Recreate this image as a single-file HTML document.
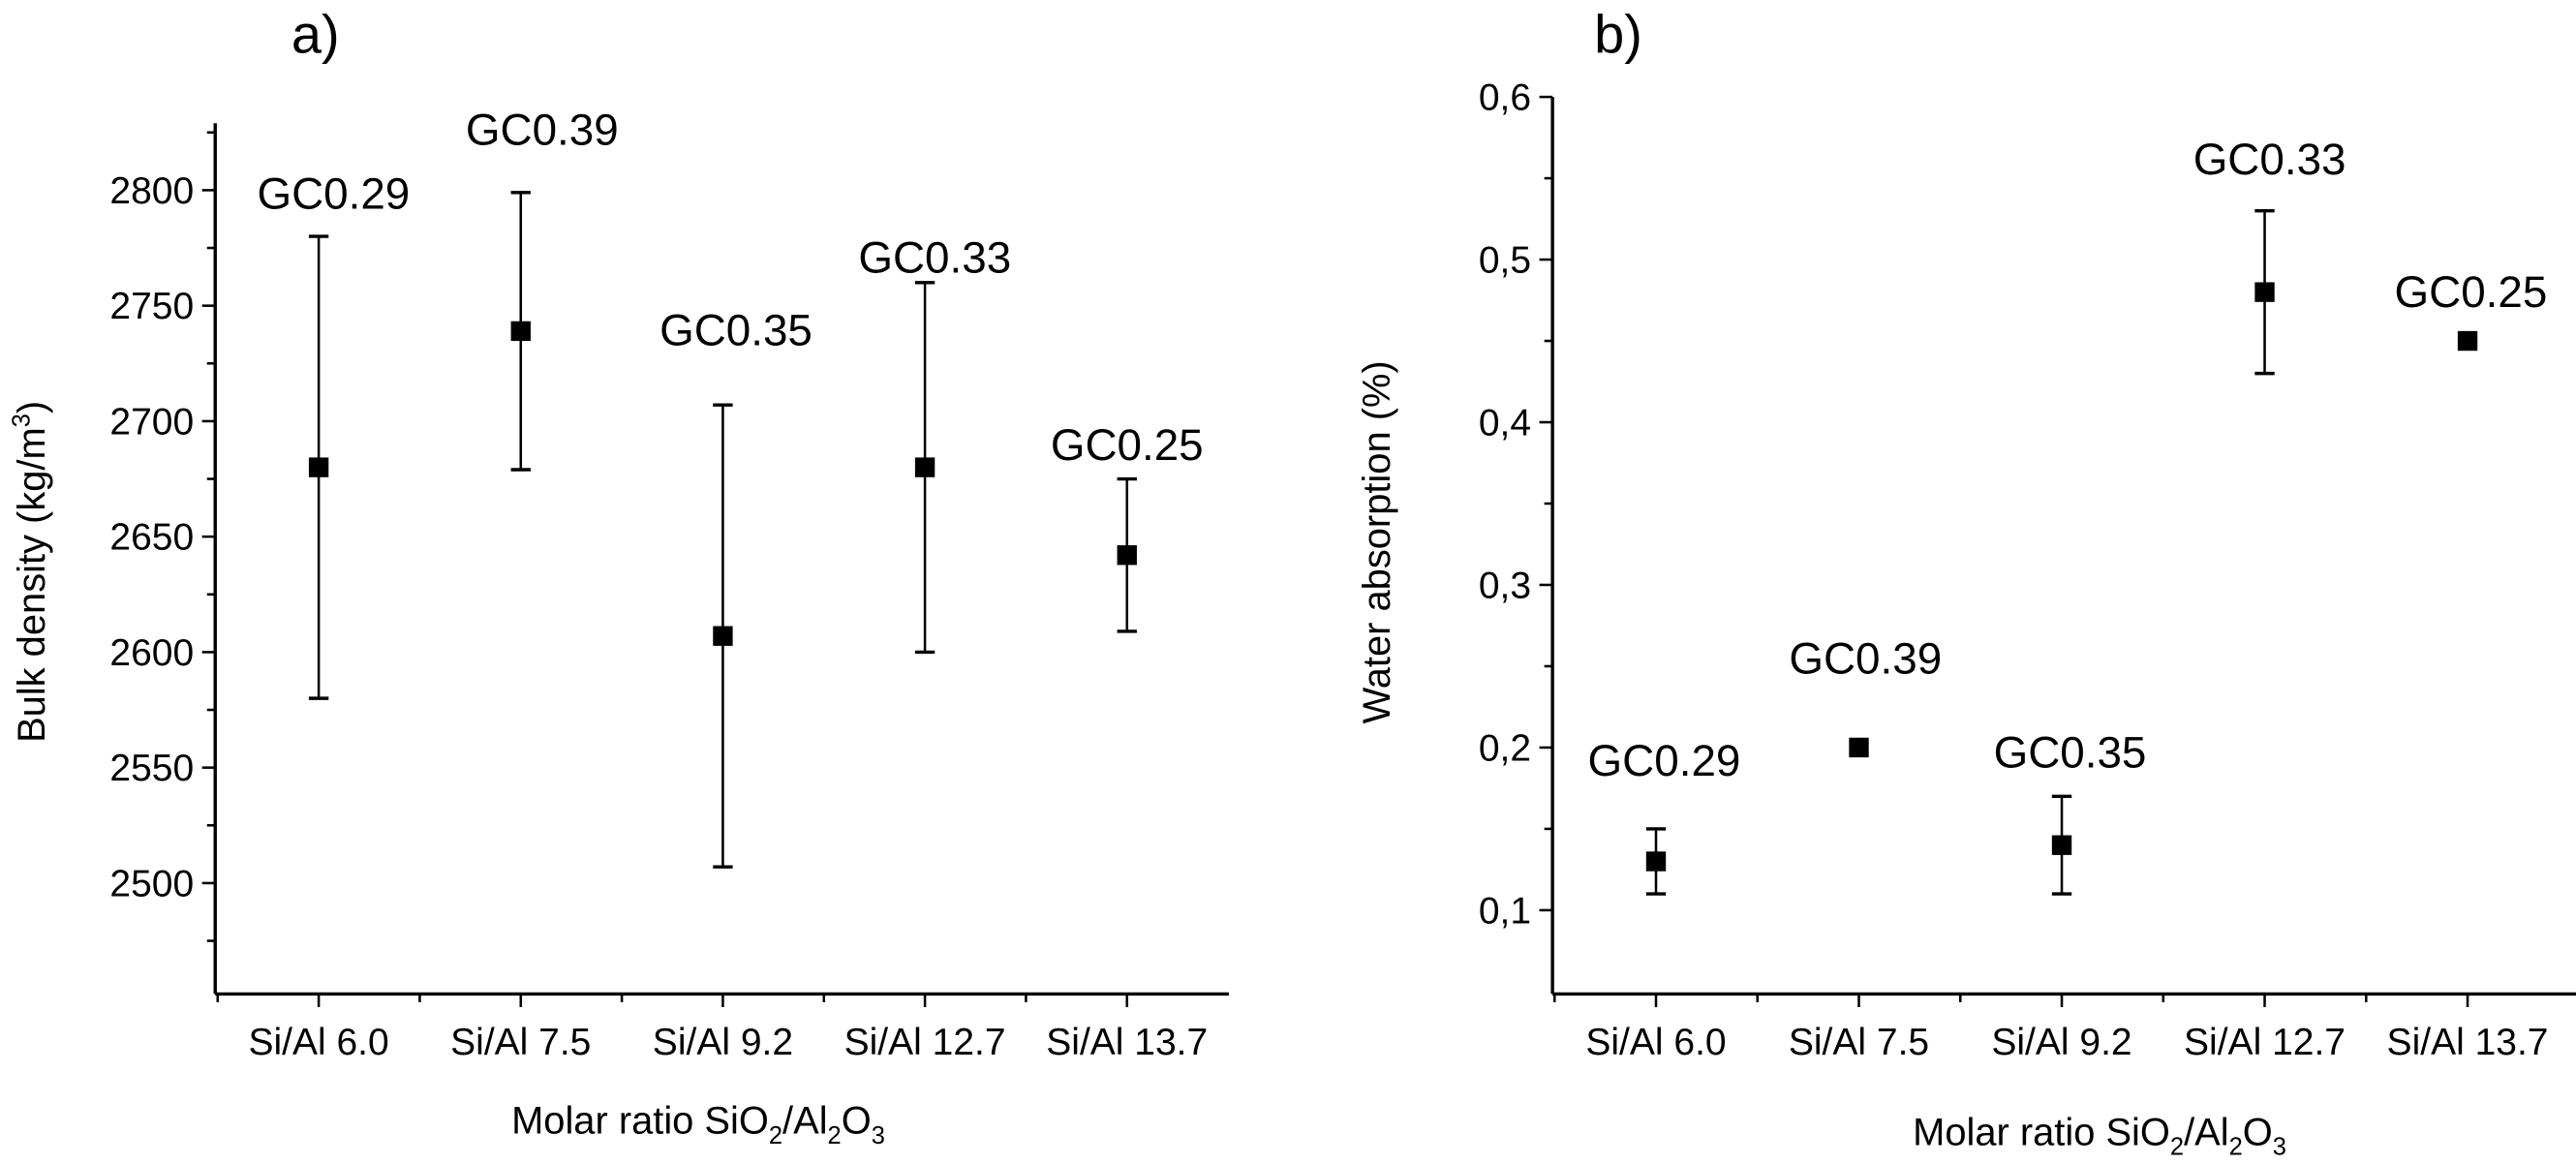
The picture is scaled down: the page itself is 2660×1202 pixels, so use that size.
<!DOCTYPE html>
<html><head><meta charset="utf-8"><style>
html,body{margin:0;padding:0;background:#fff}
svg{display:block}
text{font-family:"Liberation Sans",Arial,sans-serif;fill:#000}
</style></head><body>
<svg id="c" width="2660" height="1202" viewBox="0 0 1568 708.5" preserveAspectRatio="none" xmlns="http://www.w3.org/2000/svg"></svg>
<script>
const categories=["Si/Al 6.0","Si/Al 7.5","Si/Al 9.2","Si/Al 12.7","Si/Al 13.7"];
const densVals=[2680,2739,2607,2680,2642];
const densLo=[2580,2679,2507,2600,2609];
const densHi=[2780,2799,2707,2760,2675];
const densLabels=["GC0.29","GC0.39","GC0.35","GC0.33","GC0.25"];
const densTicks=[2500,2550,2600,2650,2700,2750,2800];
const waterVals=[0.13,0.20,0.14,0.48,0.45];
const waterLo=[0.11,0.20,0.11,0.43,0.445];
const waterHi=[0.15,0.20,0.17,0.53,0.455];
const waterLabels=["GC0.29","GC0.39","GC0.35","GC0.33","GC0.25"];
const waterTicks=[0.1,0.2,0.3,0.4,0.5,0.6];
const waterTickText=["0,1","0,2","0,3","0,4","0,5","0,6"];

const svg=document.getElementById('c');
const NS="http://www.w3.org/2000/svg";
function mk(tag,attrs,name,txt){const e=document.createElementNS(NS,tag);for(const k in attrs)e.setAttribute(k,attrs[k]);


if(txt!==undefined)e.textContent=txt;svg.appendChild(e);return e;}
function line(x1,y1,x2,y2,name,w){return mk('line',{x1,y1,x2,y2,stroke:'#000','stroke-width':w||1.5},name);}

function panel(o){
  const {ax,x0,x1,yTop,yBot,vTop,vBot,cx,vals,lo,hi,labels,labPos,ticks,tickText,minor}=o;
  const y=v=>yBot-(v-vBot)/(vTop-vBot)*(yBot-yTop);
  const x=i=>cx[0]+i*(cx[1]-cx[0]);
  line(x0,yTop,x0,yBot,ax+'-y-axis',2);
  line(x0,yBot,x1,yBot,ax+'-x-axis',2);
  ticks.forEach((t,i)=>{line(x0-8,y(t),x0,y(t),ax+'-y-tick');
    mk('text',{x:x0-13,y:y(t)+8,'font-size':23,'text-anchor':'end'},ax+'-y-tick-label',tickText?tickText[i]:String(t));});
  minor.forEach(t=>line(x0-5,y(t),x0,y(t),ax+'-y-minor-tick'));
  categories.forEach((c,i)=>{line(x(i),yBot,x(i),yBot+8,ax+'-x-tick');
    line(x(i)-(cx[1]-cx[0])/2,yBot,x(i)-(cx[1]-cx[0])/2,yBot+5,ax+'-x-minor-tick');
    mk('text',{x:x(i),y:yBot+37,'font-size':23,'text-anchor':'middle'},ax+'-x-tick-label',c);});
  vals.forEach((v,i)=>{
    if(hi[i]-lo[i]>0.02*(vTop-vBot)){
      line(x(i),y(hi[i]),x(i),y(lo[i]),ax+'-error-bar',1.5);
      line(x(i)-6,y(hi[i]),x(i)+6,y(hi[i]),ax+'-error-cap',2);
      line(x(i)-6,y(lo[i]),x(i)+6,y(lo[i]),ax+'-error-cap',2);
    }
    mk('rect',{x:x(i)-6,y:y(v)-6,width:12,height:12,fill:'#000'},ax+'-data-point');
    mk('text',{x:x(i)+labPos[i][0],y:labPos[i][1],'font-size':27,'text-anchor':'middle'},ax+'-point-label',labels[i]);
  });
}
panel({ax:'density',x0:131,x1:748,yTop:75,yBot:605,vTop:2829,vBot:2452,cx:[194,317],
  vals:densVals,lo:densLo,hi:densHi,labels:densLabels,
  labPos:[[9,127],[13,88],[8,210],[6,166],[0,280]],
  ticks:densTicks,minor:[2475,2525,2575,2625,2675,2725,2775,2825]});
panel({ax:'water',x0:945,x1:1568,yTop:59,yBot:605,vTop:0.6,vBot:0.0485,cx:[1008,1131.5],
  vals:waterVals,lo:waterLo,hi:waterHi,labels:waterLabels,
  labPos:[[5,472],[4,410],[5,467],[3,106],[2,187]],
  ticks:waterTicks,tickText:waterTickText,minor:[0.15,0.25,0.35,0.45,0.55]});
mk('text',{x:192,y:32,'font-size':33,'text-anchor':'middle'},'panel-a-label','a)');
mk('text',{x:985,y:32,'font-size':33,'text-anchor':'middle'},'panel-b-label','b)');
const t1=mk('text',{x:425,y:690,'font-size':23.5,'text-anchor':'middle'},'density-x-axis-title');
t1.innerHTML='Molar ratio SiO<tspan font-size="15" dy="6">2</tspan><tspan dy="-6">/Al</tspan><tspan font-size="15" dy="6">2</tspan><tspan dy="-6">O</tspan><tspan font-size="15" dy="6">3</tspan>';
const t2=mk('text',{x:1278,y:697,'font-size':23.5,'text-anchor':'middle'},'water-x-axis-title');
t2.innerHTML=t1.innerHTML;
const t3=mk('text',{x:0,y:0,'font-size':23.5,'text-anchor':'middle',transform:'translate(27,348) rotate(-90)'},'density-y-axis-title');
t3.innerHTML='Bulk density (kg/m<tspan font-size="15" dy="-9">3</tspan><tspan dy="9">)</tspan>';
mk('text',{x:0,y:0,'font-size':23.5,'text-anchor':'middle',transform:'translate(846,330) rotate(-90)'},'water-y-axis-title','Water absorption (%)');
</script>
</body></html>
